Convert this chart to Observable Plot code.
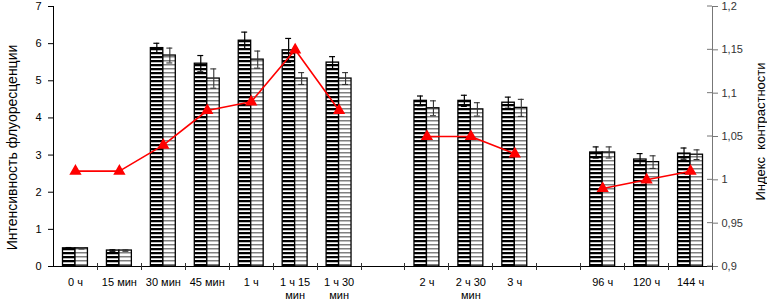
<!DOCTYPE html>
<html><head><meta charset="utf-8">
<script src="https://cdn.jsdelivr.net/npm/d3@7"></script>
<script src="https://cdn.jsdelivr.net/npm/@observablehq/plot@0.6"></script>
<style>body{margin:0;background:#fff}</style>
</head><body><div id="chart"></div>
<script>
// Category slots (empty strings are gaps on the time axis)
const tickLabels = ["0 ч", "15 мин", "30 мин", "45 мин", "1 ч", "1 ч 15\nмин", "1 ч 30\nмин", "", "2 ч", "2 ч 30\nмин", "3 ч", "", "96 ч", "120 ч", "144 ч"];
// Fluorescence intensity, series 1 (dark hatch) and series 2 (light hatch)
const series1 = [0.49, 0.43, 5.88, 5.46, 6.08, 5.82, 5.49, null, 4.46, 4.46, 4.41, null, 3.07, 2.88, 3.04];
const err1    = [0.02, 0.02, 0.13, 0.22, 0.23, 0.32, 0.16, null, 0.13, 0.15, 0.15, null, 0.15, 0.16, 0.15];
const series2 = [0.49, 0.43, 5.68, 5.06, 5.57, 5.06, 5.06, null, 4.26, 4.23, 4.27, null, 3.07, 2.81, 3.01];
const err2    = [0.02, 0.02, 0.20, 0.26, 0.23, 0.16, 0.16, null, 0.20, 0.18, 0.23, null, 0.15, 0.17, 0.13];
// Contrast index (right axis)
const contrast = [1.01, 1.01, 1.04, 1.08, 1.09, 1.15, 1.08, null, 1.05, 1.05, 1.03, null, 0.99, 1.00, 1.01];

const leftTicks = [0, 1, 2, 3, 4, 5, 6, 7];
const rightTicks = [0.9, 0.95, 1, 1.05, 1.1, 1.15, 1.2];
const leftLabel = "Интенсивность флуоресценции";
const rightLabel = "Индекс  контрастности";

const leftMax = 7, rightMin = 0.9, rightMax = 1.2;
const toLeft = v => v == null ? NaN : (v - rightMin) / (rightMax - rightMin) * leftMax;
const fmtComma = v => String(v).replace(".", ",");

const slots = d3.range(tickLabels.length);
const rows = slots.map(i => ({i, a: series1[i], ea: err1[i], b: series2[i], eb: err2[i], c: toLeft(contrast[i])}));
const bars = rows.filter(d => d.a != null);
const pts = rows.filter(d => !isNaN(d.c));

function defsMark() {
  const g = d3.create("svg:g");
  const defs = g.append("defs");
  const pA = defs.append("pattern").attr("id", "hatchA").attr("patternUnits", "userSpaceOnUse").attr("width", 4).attr("height", 4);
  pA.append("rect").attr("width", 4).attr("height", 4).attr("fill", "#fff");
  pA.append("rect").attr("y", 0).attr("width", 4).attr("height", 2).attr("fill", "#000");
  pA.append("rect").attr("y", 2).attr("width", 4).attr("height", 1).attr("fill", "#bbb");
  const pB = defs.append("pattern").attr("id", "hatchB").attr("patternUnits", "userSpaceOnUse").attr("width", 4).attr("height", 4);
  pB.append("rect").attr("width", 4).attr("height", 4).attr("fill", "#fff");
  pB.append("rect").attr("y", 0).attr("width", 4).attr("height", 1.5).attr("fill", "#808080");
  return g.node();
}

function axesMark(index, scales, values, dims) {
  const {width, height, marginLeft, marginRight, marginTop, marginBottom} = dims;
  const x0 = marginLeft, x1 = width - marginRight, yb = height - marginBottom, yt = marginTop;
  const step = (x1 - x0) / slots.length;
  const g = d3.create("svg:g").attr("fill", "none");
  g.append("line").attr("x1", x0).attr("x2", x1).attr("y1", yb + 0.5).attr("y2", yb + 0.5).attr("stroke", "#000");
  g.append("line").attr("x1", x0 + 0.5).attr("x2", x0 + 0.5).attr("y1", yt).attr("y2", yb).attr("stroke", "#000");
  g.append("line").attr("x1", x1 + 0.5).attr("x2", x1 + 0.5).attr("y1", yt).attr("y2", yb).attr("stroke", "#777");
  for (let k = 1; k <= slots.length; k++) {
    const xx = Math.round(x0 + k * step) + 0.5;
    g.append("line").attr("x1", xx).attr("x2", xx).attr("y1", yb - 3).attr("y2", yb + 4).attr("stroke", "#333");
  }
  for (const t of rightTicks) {
    const yy = scales.y(toLeft(t));
    g.append("line").attr("x1", x1 - 5).attr("x2", x1).attr("y1", yy).attr("y2", yy).attr("stroke", "#777");
  }
  return g.node();
}

const chart = Plot.plot({
  width: 767,
  height: 300,
  marginLeft: 53,
  marginRight: 55,
  marginTop: 6,
  marginBottom: 34,
  style: {fontFamily: "Liberation Sans, Arial, sans-serif", fontSize: "11px", background: "#fff", color: "#000"},
  x: {type: "band", domain: slots, padding: 0, round: false},
  y: {domain: [0, leftMax]},
  marks: [
    defsMark,
    Plot.barY(bars, {x: "i", y: "a", fill: "url(#hatchA)", stroke: "#000", strokeWidth: 1.3, insetLeft: 9.5, insetRight: 22}),
    Plot.barY(bars, {x: "i", y: "b", fill: "url(#hatchB)", stroke: "#000", strokeWidth: 1.3, insetLeft: 22, insetRight: 9.5}),
    Plot.ruleX(bars, {x: "i", y1: d => d.a - d.ea, y2: d => d.a + d.ea, dx: -6.5, stroke: "#000", strokeWidth: 1.2}),
    Plot.tickY(bars, {x: "i", y: d => d.a + d.ea, insetLeft: 12.5, insetRight: 25.5, stroke: "#000", strokeWidth: 1.2}),
    Plot.tickY(bars, {x: "i", y: d => d.a - d.ea, insetLeft: 12.5, insetRight: 25.5, stroke: "#000", strokeWidth: 1.2}),
    Plot.ruleX(bars, {x: "i", y1: d => d.b - d.eb, y2: d => d.b + d.eb, dx: 6.5, stroke: "#333", strokeWidth: 1.1}),
    Plot.tickY(bars, {x: "i", y: d => d.b + d.eb, insetLeft: 25.5, insetRight: 12.5, stroke: "#333", strokeWidth: 1.1}),
    Plot.tickY(bars, {x: "i", y: d => d.b - d.eb, insetLeft: 25.5, insetRight: 12.5, stroke: "#333", strokeWidth: 1.1}),
    Plot.line(rows, {x: "i", y: "c", stroke: "#ff0000", strokeWidth: 1.6}),
    Plot.dot(pts, {x: "i", y: "c", symbol: "triangle", fill: "#ff0000", stroke: "#ff0000", r: 3.6}),
    Plot.axisY({ticks: leftTicks, tickFormat: d => fmtComma(d), tickSize: 5, tickPadding: 7, label: null, fontSize: 11}),
    Plot.axisY({anchor: "right", ticks: rightTicks.map(toLeft), tickFormat: (d, k) => fmtComma(rightTicks[k]), tickSize: 5, tickPadding: 4, label: null, stroke: "#777", fill: "#333", fontSize: 11}),
    Plot.axisX({tickSize: 0, tickPadding: 11, tickFormat: k => tickLabels[k], lineHeight: 1.15, label: null, fontSize: 11}),
    Plot.text([leftLabel], {frameAnchor: "left", textAnchor: "middle", rotate: -90, dx: -41, dy: 11, fontSize: 14, fill: "#000"}),
    Plot.text([rightLabel], {frameAnchor: "right", textAnchor: "middle", rotate: -90, dx: 48, dy: -5, fontSize: 13, fill: "#000"}),
    axesMark
  ]
});
document.getElementById("chart").appendChild(chart);
</script>
</body></html>
